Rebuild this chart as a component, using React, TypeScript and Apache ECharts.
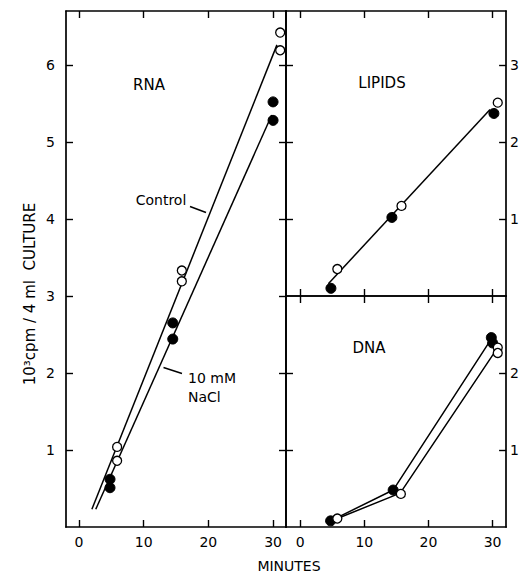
import React, { useEffect, useRef } from 'react';
import * as echarts from 'echarts';

const FONT = 'DejaVu Sans';
const INK = '#000';

// shared tick values
const xTicks = [0, 10, 20, 30];
const rnaYTicks = [1, 2, 3, 4, 5, 6];
const lipidYTicks = [1, 2, 3];
const dnaYTicks = [1, 2];

// RNA panel (x = minutes, y = 10^3 cpm / 4 ml culture)
const rnaControl = [[5.9, 1.04], [5.9, 0.86], [15.9, 3.33], [15.9, 3.19], [31.1, 6.42], [31.1, 6.19]];
const rnaNaCl = [[4.8, 0.62], [4.8, 0.51], [14.5, 2.65], [14.5, 2.44], [30.0, 5.52], [30.0, 5.28]];
const rnaControlFit = [[2.0, 0.23], [30.6, 6.26]];
const rnaNaClFit = [[2.6, 0.23], [29.8, 5.35]];

// LIPIDS panel
const lipidControl = [[5.8, 0.35], [15.8, 1.17], [30.8, 2.51]];
const lipidNaCl = [[4.8, 0.10], [14.3, 1.02], [30.2, 2.37]];
const lipidFit = [[4.4, 0.16], [29.6, 2.42]];

// DNA panel
const dnaControl = [[5.8, 0.11], [15.7, 0.43], [30.8, 2.33], [30.8, 2.26]];
const dnaNaCl = [[4.75, 0.08], [14.5, 0.48], [29.8, 2.46], [30.0, 2.39]];
const dnaControlLine = [[5.8, 0.11], [15.6, 0.44], [30.4, 2.28]];
const dnaNaClLine = [[4.75, 0.08], [14.5, 0.48], [29.7, 2.43]];

const X_MIN_L = -2;
const X_MAX_L = 32;
const X_MIN_R = -2.2;
const X_MAX_R = 32.1;

const mkX = (gridIndex: number, position: string, min: number, max: number, showLabel: boolean) => ({
  type: 'value',
  gridIndex,
  position,
  min,
  max,
  axisLine: { show: true, onZero: false, lineStyle: { color: INK, width: 1.7 } },
  axisTick: { show: true, inside: true, length: 7, customValues: xTicks, lineStyle: { color: INK, width: 1.4 } },
  axisLabel: { show: showLabel, customValues: xTicks, margin: 8, color: INK, fontFamily: FONT, fontSize: 14 },
  splitLine: { show: false },
});

const mkY = (gridIndex: number, position: string, max: number, ticks: number[], showLabel: boolean, margin: number) => ({
  type: 'value',
  gridIndex,
  position,
  min: 0,
  max,
  axisLine: { show: true, onZero: false, lineStyle: { color: INK, width: 1.7 } },
  axisTick: { show: true, inside: true, length: 7, customValues: ticks, lineStyle: { color: INK, width: 1.4 } },
  axisLabel: { show: showLabel, customValues: ticks, margin, color: INK, fontFamily: FONT, fontSize: 14 },
  splitLine: { show: false },
});

const openStyle = { color: '#fff', borderColor: INK, borderWidth: 1.3, opacity: 1 };
const fillStyle = { color: INK, borderColor: INK, borderWidth: 1, opacity: 1 };

const lineSeries = (data: number[][], xi: number, yi: number) => ({
  type: 'line',
  data,
  xAxisIndex: xi,
  yAxisIndex: yi,
  showSymbol: false,
  symbol: 'none',
  lineStyle: { color: INK, width: 1.5 },
  z: 2,
  silent: true,
});

const scatterSeries = (data: number[][], xi: number, yi: number, open: boolean) => ({
  type: 'scatter',
  data,
  xAxisIndex: xi,
  yAxisIndex: yi,
  symbol: 'circle',
  symbolSize: open ? 9 : 10,
  itemStyle: open ? openStyle : fillStyle,
  z: open ? 4 : 3,
  silent: true,
});

const txt = (text: string, x: number, y: number, size: number, align = 'center', rotation = 0) => ({
  type: 'text',
  x,
  y,
  rotation,
  silent: true,
  style: {
    text,
    fill: INK,
    fontFamily: FONT,
    fontSize: size,
    align,
    verticalAlign: 'middle',
    textAlign: align,
    textVerticalAlign: 'middle',
  },
});

const leader = (x1: number, y1: number, x2: number, y2: number) => ({
  type: 'line',
  silent: true,
  shape: { x1, y1, x2, y2 },
  style: { stroke: INK, lineWidth: 1.4 },
});

export default function App() {
  const ref = useRef<HTMLDivElement>(null);

  useEffect(() => {
    if (!ref.current) return;
    const chart = echarts.init(ref.current, null, { renderer: 'svg' });
    chart.setOption({
      animation: false,
      backgroundColor: '#fff',
      grid: [
        { left: 66, top: 11, width: 220, height: 516, containLabel: false },
        { left: 286, top: 11, width: 223, height: 285, containLabel: false },
        { left: 286, top: 296, width: 223, height: 231, containLabel: false },
      ],
      xAxis: [
        mkX(0, 'bottom', X_MIN_L, X_MAX_L, true),
        mkX(0, 'top', X_MIN_L, X_MAX_L, false),
        mkX(1, 'bottom', X_MIN_R, X_MAX_R, false),
        mkX(1, 'top', X_MIN_R, X_MAX_R, false),
        mkX(2, 'bottom', X_MIN_R, X_MAX_R, true),
        mkX(2, 'top', X_MIN_R, X_MAX_R, false),
      ],
      yAxis: [
        mkY(0, 'left', 6.7, rnaYTicks, true, 11),
        mkY(0, 'right', 6.7, rnaYTicks, false, 4),
        mkY(1, 'left', 3.7, lipidYTicks, false, 4),
        mkY(1, 'right', 3.7, lipidYTicks, true, 4),
        mkY(2, 'left', 3.0, dnaYTicks, false, 4),
        mkY(2, 'right', 3.0, dnaYTicks, true, 4),
      ],
      series: [
        lineSeries(rnaControlFit, 0, 0),
        lineSeries(rnaNaClFit, 0, 0),
        scatterSeries(rnaNaCl, 0, 0, false),
        scatterSeries(rnaControl, 0, 0, true),
        lineSeries(lipidFit, 2, 3),
        scatterSeries(lipidNaCl, 2, 3, false),
        scatterSeries(lipidControl, 2, 3, true),
        lineSeries(dnaNaClLine, 4, 5),
        lineSeries(dnaControlLine, 4, 5),
        scatterSeries(dnaNaCl, 4, 5, false),
        scatterSeries(dnaControl, 4, 5, true),
      ],
      graphic: [
        txt('RNA', 149, 85, 15),
        txt('LIPIDS', 382, 83, 15),
        txt('DNA', 369, 348, 15),
        txt('Control', 161, 200, 14),
        leader(190, 206.5, 206, 212.5),
        txt('10 mM', 188, 378, 14, 'left'),
        txt('NaCl', 188, 397, 14, 'left'),
        leader(163.5, 367.5, 182, 373.5),
        txt('10³cpm / 4 ml  CULTURE', 30, 294, 15, 'center', Math.PI / 2),
        txt('MINUTES', 289, 566, 14),
      ],
    });
    return () => chart.dispose();
  }, []);

  return (
    <div
      ref={ref}
      style={{ position: 'fixed', left: 0, top: 0, width: 522, height: 576, background: '#fff' }}
    />
  );
}
